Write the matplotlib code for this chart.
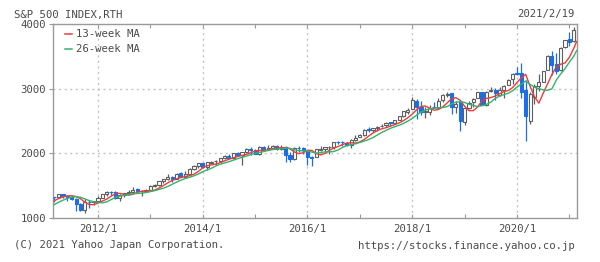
import matplotlib
matplotlib.use('Agg')
import matplotlib.pyplot as plt
from matplotlib.lines import Line2D

# monthly candles, 2011/3 .. 2021/2 (last one up to 2/19)
start_year, start_month = 2011, 3

opens = [1328.6, 1329.5, 1365.2, 1345.2, 1320.6, 1292.6, 1219.1, 1131.2, 1251.0, 1246.9,
         1258.9, 1312.5, 1365.9, 1408.5, 1398.0, 1309.9, 1362.3, 1379.3, 1406.5, 1440.9, 1412.2, 1416.2,
         1426.2, 1498.1, 1514.7, 1569.2, 1597.6, 1631.7, 1609.8, 1689.4, 1635.9, 1682.4, 1758.7, 1806.6,
         1845.9, 1782.7, 1857.7, 1874.0, 1884.4, 1923.9, 1962.3, 1929.8, 2004.1, 1971.4, 2018.2, 2065.8,
         2058.9, 1996.7, 2105.2, 2067.6, 2087.4, 2108.6, 2067.0, 2104.5, 1970.1, 1919.7, 2080.8, 2082.9,
         2038.2, 1936.9, 1937.1, 2056.6, 2067.2, 2093.9, 2099.3, 2173.2, 2171.3, 2164.3, 2128.7, 2200.2,
         2251.6, 2285.6, 2380.1, 2362.3, 2388.5, 2415.6, 2431.4, 2477.1, 2474.4, 2521.2, 2583.2, 2645.1,
         2683.7, 2816.5, 2715.2, 2633.5, 2643.0, 2718.7, 2705.0, 2821.2, 2897.0, 2926.3, 2717.6, 2790.5,
         2477.0, 2702.3, 2798.2, 2848.6, 2952.3, 2751.5, 2971.4, 2980.3, 2909.0, 2983.7, 3050.7, 3143.9,
         3244.7, 3235.7, 2974.3, 2498.1, 2869.1, 3038.8, 3105.9, 3288.3, 3507.4, 3385.9, 3296.2, 3645.9,
         3764.6, 3731.2]
highs = [1332.3, 1366.6, 1370.6, 1345.2, 1356.5, 1307.4, 1229.3, 1292.7, 1277.6, 1269.4,
         1333.5, 1378.0, 1420.0, 1422.4, 1415.3, 1363.5, 1392.0, 1426.7, 1474.5, 1470.0, 1434.3, 1448.0,
         1509.9, 1530.9, 1570.3, 1598.6, 1687.2, 1654.2, 1698.8, 1709.7, 1729.9, 1775.2, 1813.6, 1849.4,
         1850.8, 1867.9, 1884.0, 1897.3, 1924.0, 1968.2, 1991.4, 2005.0, 2019.3, 2018.2, 2075.8, 2093.6,
         2072.4, 2119.6, 2117.5, 2125.9, 2134.7, 2129.9, 2132.8, 2112.7, 2021.0, 2094.3, 2116.5, 2104.3,
         2038.2, 1963.0, 2072.2, 2111.1, 2103.5, 2120.6, 2177.1, 2193.8, 2187.9, 2169.6, 2214.1, 2277.5,
         2301.0, 2371.5, 2401.0, 2398.2, 2418.7, 2454.0, 2484.0, 2490.9, 2519.4, 2583.0, 2657.7, 2695.0,
         2872.9, 2836.0, 2801.9, 2717.5, 2742.2, 2791.5, 2848.0, 2916.5, 2940.9, 2939.9, 2815.2, 2800.2,
         2709.0, 2813.5, 2860.3, 2949.5, 2954.1, 2964.2, 3028.0, 3014.3, 3022.0, 3050.1, 3154.3, 3247.9,
         3337.8, 3393.5, 3136.7, 2954.9, 3068.7, 3233.1, 3280.0, 3514.8, 3588.1, 3549.9, 3646.0, 3760.2,
         3870.9, 3950.4]
lows = [1249.1, 1302.6, 1311.8, 1258.1, 1282.9, 1101.5, 1114.2, 1074.8, 1158.7, 1202.4,
        1258.9, 1312.5, 1340.0, 1357.4, 1291.0, 1266.7, 1325.4, 1354.7, 1396.6, 1403.3, 1343.4, 1398.1,
        1426.2, 1485.0, 1501.5, 1536.0, 1581.3, 1560.3, 1604.6, 1627.5, 1633.4, 1646.5, 1746.2, 1768.0,
        1770.5, 1737.9, 1834.4, 1814.4, 1859.8, 1916.0, 1930.7, 1904.8, 1964.0, 1820.7, 2001.0, 1972.6,
        1988.1, 1980.9, 2039.7, 2048.4, 2067.9, 2056.3, 2044.0, 1867.0, 1871.9, 1893.7, 2019.4, 1993.3,
        1812.3, 1810.1, 1937.1, 2033.8, 2025.9, 1991.7, 2074.0, 2147.6, 2119.1, 2114.7, 2083.8, 2187.4,
        2245.1, 2271.7, 2322.3, 2329.0, 2352.7, 2405.7, 2407.7, 2417.4, 2446.6, 2520.4, 2557.5, 2605.5,
        2682.4, 2532.7, 2585.9, 2553.8, 2594.6, 2698.7, 2699.0, 2796.3, 2864.1, 2603.5, 2631.1, 2346.6,
        2444.0, 2681.8, 2722.3, 2848.6, 2750.5, 2728.8, 2952.2, 2822.1, 2891.9, 2855.9, 3050.7, 3070.3,
        3214.6, 2855.8, 2191.9, 2447.5, 2766.6, 2965.7, 3101.2, 3284.5, 3209.5, 3233.9, 3279.7, 3633.4,
        3662.7, 3725.6]
closes = [1325.8, 1363.6, 1345.2, 1320.6, 1292.3, 1219.0, 1131.4, 1253.3, 1247.0, 1257.6,
          1312.4, 1365.7, 1408.5, 1397.9, 1310.3, 1362.2, 1379.3, 1406.6, 1440.7, 1412.2, 1416.2, 1426.2,
          1498.1, 1514.7, 1569.2, 1597.6, 1630.7, 1606.3, 1685.7, 1633.0, 1681.6, 1756.5, 1805.8, 1848.4,
          1782.6, 1859.5, 1872.3, 1884.0, 1923.6, 1960.2, 1930.7, 2003.4, 1972.3, 2018.1, 2067.6, 2058.9,
          1995.0, 2104.5, 2067.9, 2085.5, 2107.4, 2063.1, 2103.8, 1972.2, 1920.0, 2079.4, 2080.4, 2043.9,
          1940.2, 1932.2, 2059.7, 2065.3, 2097.0, 2098.9, 2173.6, 2171.0, 2168.3, 2126.2, 2198.8, 2238.8,
          2278.9, 2363.6, 2362.7, 2384.2, 2411.8, 2423.4, 2470.3, 2471.7, 2519.4, 2575.3, 2647.6, 2673.6,
          2823.8, 2713.8, 2640.9, 2648.1, 2705.3, 2718.4, 2816.3, 2901.5, 2914.0, 2711.7, 2760.2, 2506.9,
          2704.1, 2784.5, 2834.4, 2945.8, 2752.1, 2941.8, 2980.4, 2926.5, 2976.7, 3037.6, 3141.0, 3230.8,
          3225.5, 2954.2, 2584.6, 2912.4, 3044.3, 3100.3, 3271.1, 3500.3, 3363.0, 3270.0, 3621.6, 3756.1,
          3714.2, 3906.7]

# moving averages at each month start, last value at 2021/2/19
ma13 = [1266, 1302, 1326, 1342, 1344, 1331, 1298, 1246, 1208, 1206,
        1231, 1262, 1292, 1337, 1376, 1381, 1364, 1354, 1367, 1396, 1414, 1421,
        1420, 1432, 1463, 1503, 1544, 1580, 1605, 1626, 1641, 1654, 1678, 1719,
        1776, 1808, 1821, 1834, 1855, 1883, 1908, 1930, 1951, 1967, 1983, 2009,
        2034, 2044, 2047, 2054, 2071, 2086, 2086, 2088, 2069, 2022, 1995, 2009,
        2047, 2045, 1997, 1975, 1998, 2047, 2081, 2105, 2135, 2159, 2163, 2160,
        2176, 2214, 2266, 2314, 2352, 2378, 2396, 2421, 2445, 2471, 2505, 2551,
        2606, 2674, 2726, 2732, 2697, 2666, 2678, 2719, 2779, 2845, 2860, 2819,
        2728, 2659, 2661, 2720, 2814, 2849, 2862, 2886, 2920, 2955, 2971, 3016,
        3094, 3168, 3221, 3037, 2877, 2776, 2927, 3073, 3219, 3335, 3378, 3398,
        3484, 3623, 3730]
ma26 = [1206, 1245, 1275, 1304, 1323, 1329, 1320, 1295, 1270, 1252,
        1239, 1235, 1249, 1284, 1319, 1337, 1351, 1365, 1374, 1380, 1384, 1394,
        1408, 1423, 1442, 1462, 1488, 1522, 1554, 1585, 1611, 1630, 1652, 1680,
        1715, 1743, 1770, 1805, 1832, 1852, 1871, 1893, 1917, 1938, 1957, 1980,
        2001, 2014, 2028, 2044, 2058, 2067, 2070, 2080, 2078, 2054, 2042, 2039,
        2035, 2020, 2003, 2011, 2022, 2022, 2028, 2052, 2091, 2120, 2134, 2148,
        2168, 2189, 2213, 2245, 2283, 2322, 2355, 2387, 2412, 2434, 2463, 2498,
        2539, 2590, 2639, 2669, 2686, 2696, 2705, 2708, 2723, 2762, 2790, 2799,
        2787, 2760, 2740, 2724, 2737, 2755, 2791, 2850, 2885, 2909, 2929, 2968,
        3025, 3070, 3119, 3066, 3023, 2999, 2982, 2975, 2998, 3131, 3226, 3309,
        3410, 3501, 3590]

y_ticks = [1000, 2000, 3000, 4000]

txt = '#4a4a4a'
up_edge = '#5e5e5e'
down_col = '#1a6fe6'

plt.rcParams['font.family'] = 'DejaVu Sans Mono'
plt.rcParams['font.size'] = 7.7

fig = plt.figure(figsize=(6.0, 2.62), dpi=100)
ax = fig.add_axes([53/600, 1-218/262, 524/600, 194/262])

n = len(closes)
xs = list(range(n))
up = [c >= o for o, c in zip(opens, closes)]

# wicks
ax.vlines(xs, lows, highs, colors=[up_edge if u else down_col for u in up], linewidth=0.9, zorder=3)
# bodies
bottoms = [min(o, c) for o, c in zip(opens, closes)]
heights = [max(abs(c - o), 4) for o, c in zip(opens, closes)]
ax.bar(xs, heights, bottom=bottoms, width=0.72,
       color=['white' if u else down_col for u in up],
       edgecolor=[up_edge if u else down_col for u in up], linewidth=0.8, zorder=4)

# moving averages
ma_x = xs + [n - 1 + 19/28]
ax.plot(ma_x, ma13, color='#f03a3a', linewidth=1.0, zorder=5)
ax.plot(ma_x, ma26, color='#33b36b', linewidth=1.0, zorder=5)

# axes
ax.set_xlim(-0.3, 119.75)
ax.set_ylim(1000, 4000)
jan_idx = [i for i in range(n) if (start_month - 1 + i) % 12 == 0]
jan_year = [start_year + (start_month - 1 + i) // 12 for i in jan_idx]
ax.set_xticks(jan_idx)
ax.set_xticklabels([f'{y}/1' if y % 2 == 0 else '' for y in jan_year])
ax.tick_params(axis='x', direction='in', length=3, top=True, colors='#999999',
               labelcolor=txt, pad=4)
ax.set_yticks(y_ticks)
ax.set_yticklabels([str(v) for v in y_ticks])
ax.tick_params(axis='y', direction='out', length=3, colors='#999999', labelcolor=txt, pad=2)
for s in ax.spines.values():
    s.set_color('#9a9a9a')
    s.set_linewidth(1.0)

for i, y in zip(jan_idx, jan_year):
    if y % 2 == 0:
        ax.axvline(i, color='#c4c4c4', linestyle=(0, (1.5, 2.5)), linewidth=1.0, zorder=1)
for v in [2000, 3000]:
    ax.axhline(v, color='#c4c4c4', linestyle=(0, (1.5, 2.5)), linewidth=1.0, zorder=1)

# legend
for yy, col, lab in [(34, '#f03a3a', '13-week MA'), (49, '#33b36b', '26-week MA')]:
    fig.add_artist(Line2D([65/600, 72/600], [1-yy/262, 1-yy/262], color=col, linewidth=1.1))
    fig.text(76/600, 1-yy/262, lab, color=txt, va='center', ha='left')

# header / footer
fig.text(14/600, 1-15/262, 'S&P 500 INDEX,RTH', color=txt, va='center', ha='left')
fig.text(575/600, 1-14/262, '2021/2/19', color=txt, va='center', ha='right')
fig.text(14/600, 1-245/262, '(C) 2021 Yahoo Japan Corporation.', color=txt, va='center', ha='left')
fig.text(575/600, 1-246/262, 'https://stocks.finance.yahoo.co.jp', color=txt, va='center', ha='right')

fig.savefig('out.png', dpi=100, facecolor='white')
